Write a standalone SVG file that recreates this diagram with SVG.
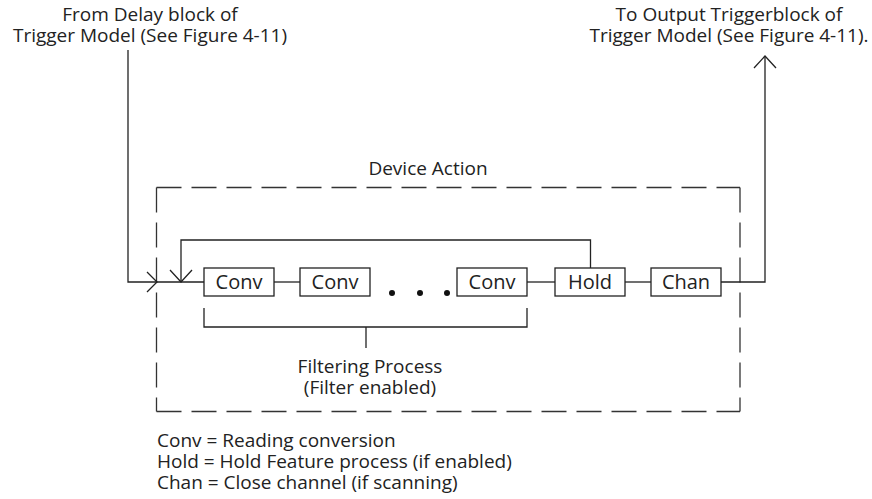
<svg xmlns="http://www.w3.org/2000/svg" width="872" height="499" viewBox="0 0 872 499">
<defs>
<style>
text{font-family:"Open Sans","Noto Sans","Liberation Sans",sans-serif;font-size:19px;fill:#222}
.c{text-anchor:middle}
.bt{font-size:20px}
.ln{fill:none;stroke:#222;stroke-width:1.3}
.box{fill:#fff;stroke:#222;stroke-width:1.3}
.dash{fill:none;stroke:#333;stroke-width:1.3;stroke-dasharray:25 10}
</style>
</defs>
<rect width="872" height="499" fill="#fff"/>
<g id="labels">
<text class="c" x="150" y="21">From Delay block of</text>
<text class="c" x="150" y="42">Trigger Model (See Figure 4-11)</text>
<text class="c" x="729" y="21">To Output Triggerblock of</text>
<text class="c" x="729" y="42">Trigger Model (See Figure 4-11).</text>
</g>
<g id="device-action">
<path class="dash" d="M156.5,187.5 H740"/>
<path class="dash" d="M156.5,187.5 V411.5"/>
<path class="dash" d="M740,187.5 V411.5"/>
<path class="dash" d="M156.5,411.5 H740"/>
<text class="c" x="428" y="175">Device Action</text>
</g>
<g id="connectors">
<path class="ln" d="M128,50 V282 H204"/>
<path class="ln" d="M147,272 L157,282 L147,292"/>
<path class="ln" d="M590.5,268 V240 H181 V282"/>
<path class="ln" d="M170,270 L181,282 L192,270"/>
<path class="ln" d="M274,282 H300"/>
<path class="ln" d="M527,282 H555"/>
<path class="ln" d="M625,282 H651"/>
<path class="ln" d="M721,282 H765 V56"/>
<path class="ln" d="M754,68 L765,56 L776,68"/>
</g>
<g id="conv1"><rect class="box" x="204" y="268" width="70" height="28"/><text class="c bt" x="239" y="289">Conv</text></g>
<g id="conv2"><rect class="box" x="300" y="268" width="70" height="28"/><text class="c bt" x="335" y="289">Conv</text></g>
<g id="ellipsis"><circle cx="392" cy="293" r="3" fill="#111"/><circle cx="420" cy="293" r="3" fill="#111"/><circle cx="447" cy="293" r="3" fill="#111"/></g>
<g id="conv3"><rect class="box" x="457" y="268" width="70" height="28"/><text class="c bt" x="492" y="289">Conv</text></g>
<g id="hold"><rect class="box" x="555" y="268" width="70" height="28"/><text class="c bt" x="590" y="289">Hold</text></g>
<g id="chan"><rect class="box" x="651" y="268" width="70" height="28"/><text class="c bt" x="686" y="289">Chan</text></g>
<g id="filtering">
<path class="ln" d="M204,308 V327 H527 V308"/>
<path class="ln" d="M366,327 V348"/>
<text class="c" x="370" y="373">Filtering Process</text>
<text class="c" x="370" y="394">(Filter enabled)</text>
</g>
<g id="legend">
<text x="157" y="447">Conv = Reading conversion</text>
<text x="157" y="468">Hold = Hold Feature process (if enabled)</text>
<text x="157" y="488.5">Chan = Close channel (if scanning)</text>
</g>
</svg>
